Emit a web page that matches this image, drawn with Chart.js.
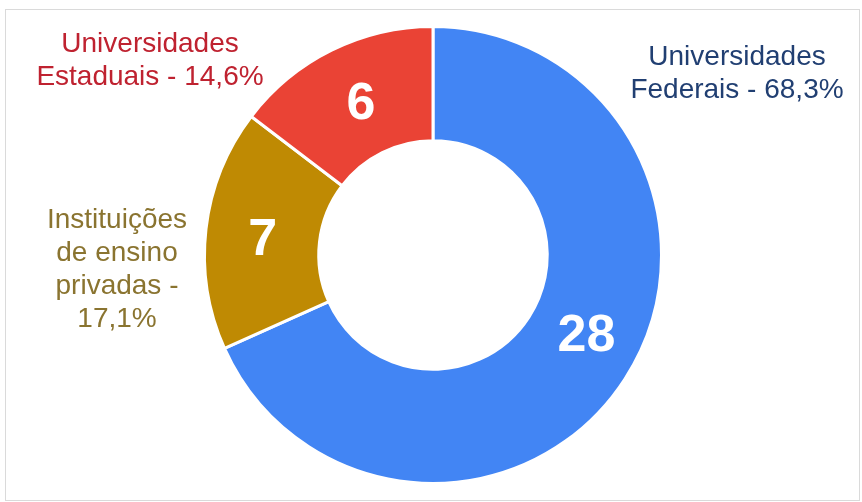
<!DOCTYPE html>
<html>
<head>
<meta charset="utf-8">
<title>Instituições</title>
<script src="https://cdn.jsdelivr.net/npm/chart.js@4"></script>
<style>
  html, body { margin: 0; padding: 0; background: #fff; }
  #wrap { position: relative; width: 862px; height: 502px; }
  #frame {
    position: absolute; left: 5px; top: 9px; width: 853px; height: 490px;
    border: 1px solid #dadada;
  }
  #chart { position: absolute; left: 0; top: 0; }
</style>
</head>
<body>
<div id="wrap">
  <div id="frame"></div>
  <canvas id="chart" width="862" height="502"></canvas>
</div>
<script>
// categories (one entry per line of the callout text)
var categoryLines = [
    ['Universidades', 'Federais'],
    ['Instituições', 'de ensino', 'privadas'],
    ['Universidades', 'Estaduais']
];
var counts = [28, 7, 6];
var sliceColors = ['#4285f4', '#bf8a03', '#ea4335'];
var textColors = ['#213f72', '#8a7430', '#bf2230'];

// where each callout block is centred, and where the first baseline sits
var calloutX = [737, 117, 150];
var calloutY = [65, 228, 52];
var pctOnOwnLine = [false, true, false];
// small turn (degrees) applied to the in-ring number of a slice
var numberTurn = [-6.5, 0, 1.5];

var total = counts.reduce(function (a, b) { return a + b; }, 0);

function pctText(v) {
    return (v / total * 100).toFixed(1).replace('.', ',') + '%';
}

var sliceLabels = {
    id: 'sliceLabels',
    afterDraw: function (chart) {
        var ctx = chart.ctx;
        var arcs = chart.getDatasetMeta(0).data;
        ctx.save();
        ctx.textAlign = 'center';

        // numbers inside the ring (digits have no descender, so drop them a bit)
        ctx.textBaseline = 'middle';
        ctx.fillStyle = '#fff';
        ctx.font = 'bold 52px "Liberation Sans", Arial, sans-serif';
        arcs.forEach(function (arc, i) {
            var a = arc.getProps(['x', 'y', 'startAngle', 'endAngle', 'innerRadius', 'outerRadius']);
            var mid = (a.startAngle + a.endAngle) / 2 + numberTurn[i] * Math.PI / 180;
            var r = (a.innerRadius + a.outerRadius) / 2;
            ctx.fillText(String(counts[i]), a.x + Math.cos(mid) * r, a.y + Math.sin(mid) * r + 5);
        });

        // callouts around the ring
        ctx.textBaseline = 'alphabetic';
        ctx.font = '28px "Liberation Sans", Arial, sans-serif';
        categoryLines.forEach(function (lines, i) {
            var out = lines.slice();
            var last = out.length - 1;
            if (pctOnOwnLine[i]) {
                out[last] = out[last] + ' -';
                out.push(pctText(counts[i]));
            } else {
                out[last] = out[last] + ' - ' + pctText(counts[i]);
            }
            ctx.fillStyle = textColors[i];
            out.forEach(function (t, k) {
                ctx.fillText(t, calloutX[i], calloutY[i] + k * 33);
            });
        });
        ctx.restore();
    }
};

var ctxRing = document.getElementById('chart').getContext('2d');
var ring = new Chart(ctxRing, {
    type: 'doughnut',
    data: {
        labels: categoryLines.map(function (l) { return l.join(' '); }),
        datasets: [{
            data: counts,
            backgroundColor: sliceColors,
            borderColor: '#fff',
            borderWidth: 3
        }]
    },
    options: {
        responsive: false,
        animation: false,
        cutout: '50%',
        layout: { padding: { top: 25, bottom: 17, left: 4, right: 0 } },
        plugins: {
            legend: { display: false },
            tooltip: { enabled: false }
        }
    },
    plugins: [sliceLabels]
});
</script>
</body>
</html>
